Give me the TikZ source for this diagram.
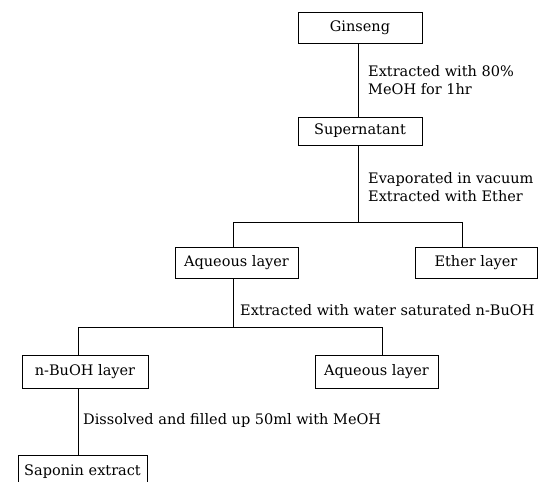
\documentclass[tikz,border=0pt]{standalone}
\usepackage{fontspec}
\setmainfont{DejaVu Serif}
\begin{document}
\begin{tikzpicture}[x=1pt,y=-1pt,
  box/.style={draw, line width=0.8pt, inner sep=0pt, font=\fontsize{14.5}{16}\selectfont},
  lbl/.style={anchor=west, align=left, inner sep=0pt, font=\fontsize{14.5}{18}\selectfont},
  conn/.style={line width=0.8pt}]
\useasboundingbox (0,0) rectangle (539,482);
\begin{scope}
\clip (0,0) rectangle (539,482);
\node[box, minimum width=124pt, minimum height=31pt] (gin) at (360,27.5) {Ginseng};
\node[box, minimum width=124pt, minimum height=28pt] (sup) at (360,131) {Supernatant};
\node[box, minimum width=123pt, minimum height=31pt] (aq1) at (236.5,262.5) {Aqueous layer};
\node[box, minimum width=122pt, minimum height=31pt] (eth) at (476,262.5) {Ether layer};
\node[box, minimum width=126pt, minimum height=33pt] (bu) at (85,371.5) {n-BuOH layer};
\node[box, minimum width=123pt, minimum height=33pt] (aq2) at (376.5,371.5) {Aqueous layer};
\node[box, minimum width=129pt, minimum height=34pt] (sap) at (82.5,472) {Saponin extract};

\coordinate (s1) at (358,222);
\coordinate (l1) at (233,222);
\coordinate (r1) at (462,222);
\coordinate (s2) at (233,327);
\coordinate (l2) at (78,327);
\coordinate (r2) at (382,327);

\draw[conn] (gin.south -| s1) -- (sup.north -| s1);
\draw[conn] (sup.south -| s1) -- (s1);
\draw[conn] (aq1.north -| l1) -- (l1) -- (r1) -- (eth.north -| r1);
\draw[conn] (aq1.south -| s2) -- (s2);
\draw[conn] (bu.north -| l2) -- (l2) -- (r2) -- (aq2.north -| r2);
\draw[conn] (bu.south -| l2) -- (sap.north -| l2);

\node[lbl] (t1) at (368,80.5) {Extracted with 80\%\\MeOH for 1hr};
\node[lbl] (t2) at (368,187) {Evaporated in vacuum\\Extracted with Ether};
\node[lbl] (t3) at (240,310) {Extracted with water saturated n-BuOH};
\node[lbl] (t4) at (83,420) {Dissolved and filled up 50ml with MeOH};
\end{scope}
\end{tikzpicture}
\end{document}
